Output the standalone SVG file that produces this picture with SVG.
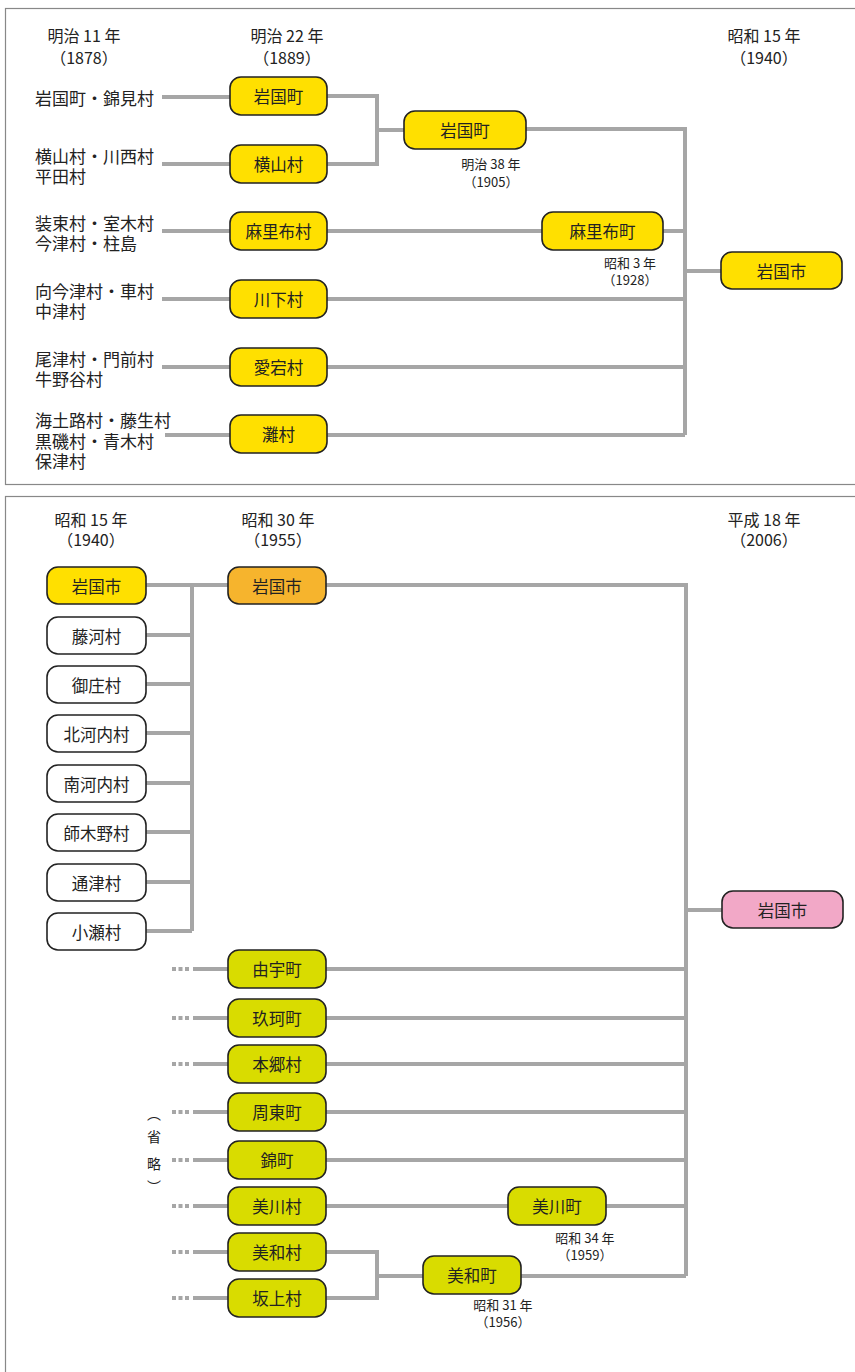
<svg xmlns="http://www.w3.org/2000/svg" width="855" height="1372" viewBox="0 0 855 1372">
<style>
text{font-family:"Noto Sans CJK JP","Noto Sans CJK SC",sans-serif;fill:#222;dominant-baseline:central}
.h{font-size:16px;text-anchor:middle}
.l{font-size:17px}
.b{font-size:16.5px;text-anchor:middle}
.s{font-size:13px;text-anchor:middle}
.v{font-size:14px;text-anchor:middle}
.ln{stroke:#a6a6a6;stroke-width:4;fill:none}
.dt{stroke:#a6a6a6;stroke-width:4;fill:none;stroke-dasharray:4 2.5}
.box rect{stroke:#222;stroke-width:1.6}
.y rect{fill:#ffe000}
.o rect{fill:#f6b42d}
.g rect{fill:#d9dc00}
.w rect{fill:#fff}
.p rect{fill:#f2a8c7}
.panel{fill:none;stroke:#888;stroke-width:1.2}
</style>
<rect class="panel" x="5.5" y="8.5" width="852" height="476"/>
<rect class="panel" x="5.5" y="496.5" width="852" height="880"/>

<g id="headers">
<text class="h" x="84" y="35">明治 11 年<tspan x="84" dy="22">（1878）</tspan></text>
<text class="h" x="287" y="35">明治 22 年<tspan x="287" dy="22">（1889）</tspan></text>
<text class="h" x="764" y="35">昭和 15 年<tspan x="764" dy="22">（1940）</tspan></text>
<text class="h" x="91" y="519">昭和 15 年<tspan x="91" dy="20">（1940）</tspan></text>
<text class="h" x="278" y="519">昭和 30 年<tspan x="278" dy="20">（1955）</tspan></text>
<text class="h" x="764" y="519">平成 18 年<tspan x="764" dy="20">（2006）</tspan></text>
</g>

<g id="sources">
<text class="l" x="35" y="97">岩国町・錦見村</text>
<text class="l" x="35" y="155">横山村・川西村<tspan x="35" dy="20">平田村</tspan></text>
<text class="l" x="35" y="222">装束村・室木村<tspan x="35" dy="20">今津村・柱島</tspan></text>
<text class="l" x="35" y="290">向今津村・車村<tspan x="35" dy="20">中津村</tspan></text>
<text class="l" x="35" y="358">尾津村・門前村<tspan x="35" dy="20">牛野谷村</tspan></text>
<text class="l" x="35" y="419">海土路村・藤生村<tspan x="35" dy="20.5">黒磯村・青木村</tspan><tspan x="35" dy="20.5">保津村</tspan></text>
</g>

<g id="connectors">
<path class="ln" d="M162 97H230M162 164H230M162 231H230M162 299H230M162 367H230M165 435H230"/>
<path class="ln" d="M326 96H377V164H326M377 130H404"/>
<path class="ln" d="M526 129H685V435M326 231H542M663 231H685M326 299H685M326 367H685M326 435H685M685 271H721"/>
<path class="ln" d="M146 585H192M146 635H192M146 684H192M146 733H192M146 783H192M146 832H192M146 882H192M146 931H192M192 585V931M192 585H228"/>
<path class="ln" d="M326 585H686V1276M686 910H722"/>
<path class="ln" d="M326 969H686M326 1018H686M326 1064H686M326 1112H686M326 1160H686M326 1206H508M606 1206H686M326 1252H377V1298H326M377 1276H423M521 1276H686"/>
<path class="dt" d="M172 969H190M172 1018H190M172 1064H190M172 1112H190M172 1160H190M172 1206H190M172 1252H190M172 1298H190"/>
<path class="ln" d="M193 969H228M193 1018H228M193 1064H228M193 1112H228M193 1160H228M193 1206H228M193 1252H228M193 1298H228"/>
</g>

<g id="n-iwakunimachi1889" class="box y"><rect x="230" y="77" width="97" height="38" rx="11"/><text class="b" x="278.5" y="96">岩国町</text></g>
<g id="n-yokoyama" class="box y"><rect x="230" y="145" width="97" height="38" rx="11"/><text class="b" x="278.5" y="164">横山村</text></g>
<g id="n-marifu-mura" class="box y"><rect x="230" y="212" width="97" height="38" rx="11"/><text class="b" x="278.5" y="231">麻里布村</text></g>
<g id="n-kawashimo" class="box y"><rect x="230" y="280" width="97" height="38" rx="11"/><text class="b" x="278.5" y="299">川下村</text></g>
<g id="n-atago" class="box y"><rect x="230" y="348" width="97" height="38" rx="11"/><text class="b" x="278.5" y="367">愛宕村</text></g>
<g id="n-nada" class="box y"><rect x="230" y="415" width="97" height="38" rx="11"/><text class="b" x="278.5" y="434">灘村</text></g>

<g id="n-iwakunimachi1905" class="box y"><rect x="404" y="111" width="122" height="38" rx="11"/><text class="b" x="465" y="130">岩国町</text></g>
<text class="s" x="491" y="163">明治 38 年<tspan x="491" dy="18">（1905）</tspan></text>
<g id="n-marifu-machi" class="box y"><rect x="542" y="212" width="121" height="38" rx="11"/><text class="b" x="602.5" y="231">麻里布町</text></g>
<text class="s" x="630" y="262">昭和 3 年<tspan x="630" dy="17">（1928）</tspan></text>
<g id="n-iwakunishi1940" class="box y"><rect x="721" y="252" width="121" height="37" rx="11"/><text class="b" x="781.5" y="270.5">岩国市</text></g>

<g id="n-iwakunishi-b" class="box y"><rect x="47" y="567" width="99" height="37" rx="11"/><text class="b" x="96.5" y="585.5">岩国市</text></g>
<g id="n-fujikawa" class="box w"><rect x="47" y="617" width="99" height="37" rx="11"/><text class="b" x="96.5" y="635.5">藤河村</text></g>
<g id="n-misho" class="box w"><rect x="47" y="666" width="99" height="37" rx="11"/><text class="b" x="96.5" y="684.5">御庄村</text></g>
<g id="n-kitagochi" class="box w"><rect x="47" y="715" width="99" height="37" rx="11"/><text class="b" x="96.5" y="733.5">北河内村</text></g>
<g id="n-minamigochi" class="box w"><rect x="47" y="765" width="99" height="37" rx="11"/><text class="b" x="96.5" y="783.5">南河内村</text></g>
<g id="n-shikino" class="box w"><rect x="47" y="814" width="99" height="37" rx="11"/><text class="b" x="96.5" y="832.5">師木野村</text></g>
<g id="n-kayoi" class="box w"><rect x="47" y="864" width="99" height="37" rx="11"/><text class="b" x="96.5" y="882.5">通津村</text></g>
<g id="n-ose" class="box w"><rect x="47" y="913" width="99" height="37" rx="11"/><text class="b" x="96.5" y="931.5">小瀬村</text></g>

<g id="n-iwakunishi1955" class="box o"><rect x="228" y="567" width="98" height="37" rx="11"/><text class="b" x="277" y="585.5">岩国市</text></g>
<g id="n-iwakunishi2006" class="box p"><rect x="722" y="891" width="121" height="37" rx="11"/><text class="b" x="782.5" y="909.5">岩国市</text></g>

<g id="n-yu" class="box g"><rect x="228" y="950" width="98" height="38" rx="11"/><text class="b" x="277" y="969">由宇町</text></g>
<g id="n-kuga" class="box g"><rect x="228" y="999" width="98" height="38" rx="11"/><text class="b" x="277" y="1018">玖珂町</text></g>
<g id="n-hongo" class="box g"><rect x="228" y="1045" width="98" height="38" rx="11"/><text class="b" x="277" y="1064">本郷村</text></g>
<g id="n-shuto" class="box g"><rect x="228" y="1093" width="98" height="38" rx="11"/><text class="b" x="277" y="1112">周東町</text></g>
<g id="n-nishiki" class="box g"><rect x="228" y="1141" width="98" height="38" rx="11"/><text class="b" x="277" y="1160">錦町</text></g>
<g id="n-mikawa-mura" class="box g"><rect x="228" y="1187" width="98" height="38" rx="11"/><text class="b" x="277" y="1206">美川村</text></g>
<g id="n-miwa-mura" class="box g"><rect x="228" y="1233" width="98" height="38" rx="11"/><text class="b" x="277" y="1252">美和村</text></g>
<g id="n-sakagami" class="box g"><rect x="228" y="1279" width="98" height="38" rx="11"/><text class="b" x="277" y="1298">坂上村</text></g>
<g id="n-mikawa-machi" class="box g"><rect x="508" y="1187" width="98" height="38" rx="11"/><text class="b" x="557" y="1206">美川町</text></g>
<text class="s" x="585" y="1237">昭和 34 年<tspan x="585" dy="17">（1959）</tspan></text>
<g id="n-miwa-machi" class="box g"><rect x="423" y="1256" width="98" height="38" rx="11"/><text class="b" x="472" y="1275">美和町</text></g>
<text class="s" x="503" y="1304">昭和 31 年<tspan x="503" dy="17">（1956）</tspan></text>

<g id="omitted">
<text class="v" x="154" y="1113">︵<tspan x="154" dy="23">省</tspan><tspan x="154" dy="27">略</tspan><tspan x="154" dy="23">︶</tspan></text>
</g>
</svg>
